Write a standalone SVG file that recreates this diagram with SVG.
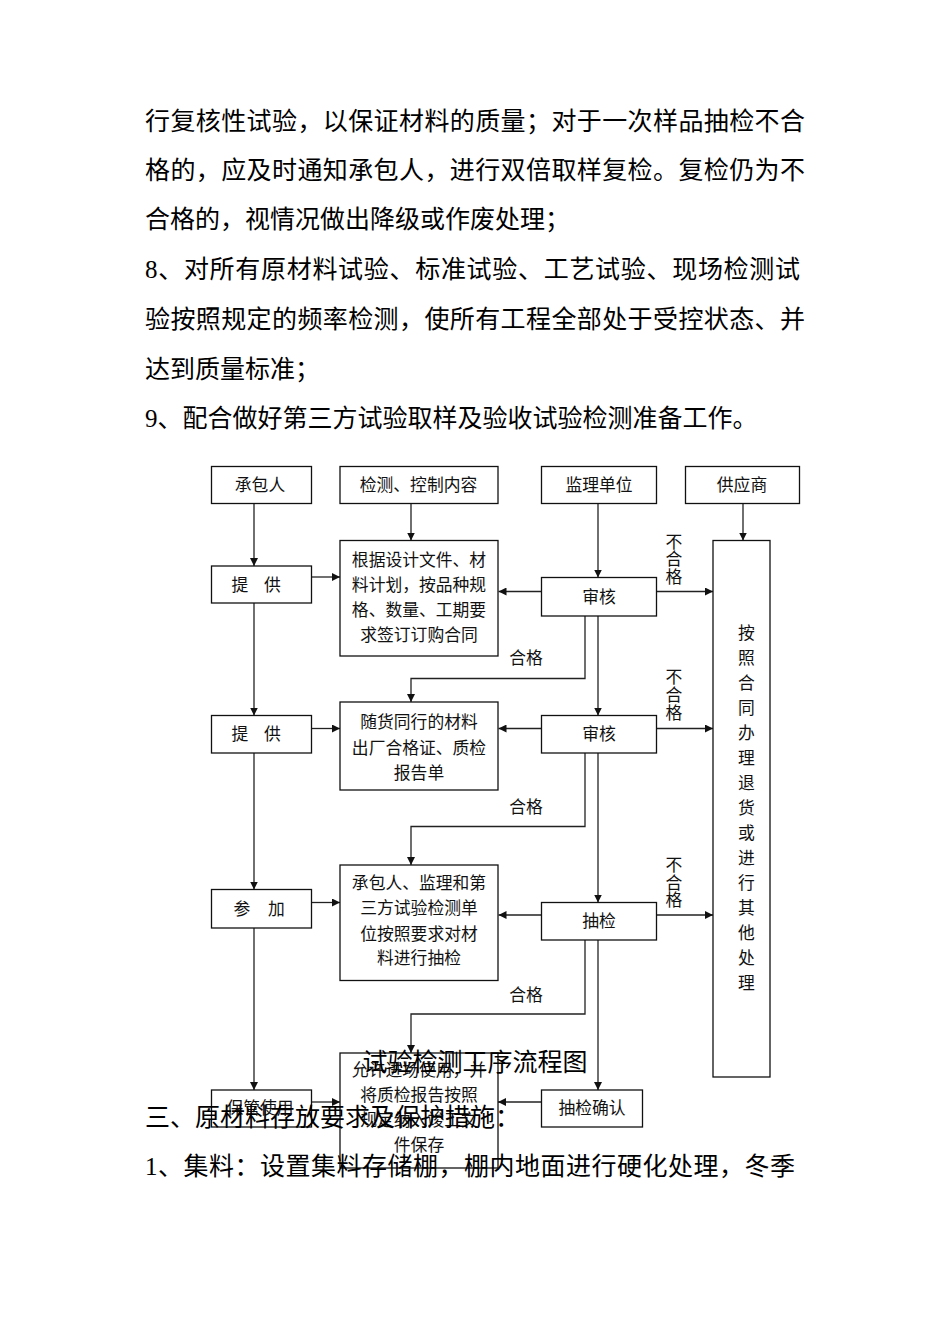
<svg xmlns="http://www.w3.org/2000/svg" width="950" height="1344" viewBox="0 0 950 1344">
<style>
.body{font-family:"Liberation Serif","Noto Sans CJK SC",serif;font-size:25px;fill:#000}
.bx{fill:#fff;stroke:#111;stroke-width:1.3}
.t{font-family:"Liberation Sans","Noto Sans CJK SC",sans-serif;font-size:16.8px;fill:#111;text-anchor:middle}
.c{fill:none;stroke:#222;stroke-width:1.3}
</style>
<defs>
<marker id="ah" viewBox="0 0 10 10" refX="10" refY="5" markerWidth="8" markerHeight="8" markerUnits="userSpaceOnUse" orient="auto">
<path d="M0,0 L10,5 L0,10 z" fill="#111"/>
</marker>
</defs>
<rect width="950" height="1344" fill="#fff"/>

<g id="connectors">
<line class="c" x1="254" y1="503" x2="254" y2="566" marker-end="url(#ah)"/>
<line class="c" x1="254" y1="603" x2="254" y2="715.5" marker-end="url(#ah)"/>
<line class="c" x1="254" y1="753" x2="254" y2="889.5" marker-end="url(#ah)"/>
<line class="c" x1="254" y1="928" x2="254" y2="1090" marker-end="url(#ah)"/>
<line class="c" x1="411" y1="503" x2="411" y2="540.5" marker-end="url(#ah)"/>
<line class="c" x1="598" y1="503" x2="598" y2="577.5" marker-end="url(#ah)"/>
<line class="c" x1="743" y1="503" x2="743" y2="540.5" marker-end="url(#ah)"/>
<line class="c" x1="312" y1="577" x2="340" y2="577" marker-end="url(#ah)"/>
<line class="c" x1="541.5" y1="591.5" x2="498.5" y2="591.5" marker-end="url(#ah)"/>
<line class="c" x1="656.5" y1="591.5" x2="713" y2="591.5" marker-end="url(#ah)"/>
<polyline class="c" points="585,616 585,678.5 411,678.5 411,702" marker-end="url(#ah)"/>
<line class="c" x1="598" y1="616" x2="598" y2="715.5" marker-end="url(#ah)"/>
<line class="c" x1="312" y1="728.5" x2="340" y2="728.5" marker-end="url(#ah)"/>
<line class="c" x1="541.5" y1="728.5" x2="498.5" y2="728.5" marker-end="url(#ah)"/>
<line class="c" x1="656.5" y1="728.5" x2="713" y2="728.5" marker-end="url(#ah)"/>
<polyline class="c" points="585,753 585,826.5 411,826.5 411,865" marker-end="url(#ah)"/>
<line class="c" x1="598" y1="753" x2="598" y2="902.5" marker-end="url(#ah)"/>
<line class="c" x1="312" y1="902.5" x2="340" y2="902.5" marker-end="url(#ah)"/>
<line class="c" x1="541.5" y1="915" x2="498.5" y2="915" marker-end="url(#ah)"/>
<line class="c" x1="656.5" y1="915" x2="713" y2="915" marker-end="url(#ah)"/>
<polyline class="c" points="585,940 585,1014 411,1014 411,1053" marker-end="url(#ah)"/>
<line class="c" x1="598" y1="940" x2="598" y2="1090" marker-end="url(#ah)"/>
<line class="c" x1="312" y1="1102" x2="340" y2="1102" marker-end="url(#ah)"/>
<line class="c" x1="541.5" y1="1102" x2="498" y2="1102" marker-end="url(#ah)"/>
<g class="t">
<text x="674" y="547.5">不</text><text x="674" y="565">合</text><text x="674" y="582.5">格</text>
<text x="674" y="682.5">不</text><text x="674" y="700.5">合</text><text x="674" y="718.5">格</text>
<text x="674" y="871">不</text><text x="674" y="889">合</text><text x="674" y="906">格</text>
<text x="526" y="664">合格</text>
<text x="526" y="812.5">合格</text>
<text x="526" y="1001">合格</text>
</g>
</g>

<g id="n-chengbaoren"><rect class="bx" x="211.5" y="466.5" width="100" height="37"/><text class="t" x="260" y="491">承包人</text></g>
<g id="n-jiance"><rect class="bx" x="340" y="466.5" width="158" height="37"/><text class="t" x="418.5" y="491">检测、控制内容</text></g>
<g id="n-jianli"><rect class="bx" x="541.5" y="466.5" width="115" height="37"/><text class="t" x="599" y="491">监理单位</text></g>
<g id="n-gongying"><rect class="bx" x="685.5" y="466.5" width="114" height="37"/><text class="t" x="742" y="491">供应商</text></g>

<g id="n-tigong1"><rect class="bx" x="211.5" y="566" width="100" height="37"/><text class="t" x="240" y="591">提</text><text class="t" x="272.5" y="591">供</text></g>
<g id="n-genju"><rect class="bx" x="340" y="540.5" width="158" height="115.5"/>
<text class="t" x="419" y="566">根据设计文件、材</text><text class="t" x="419" y="591">料计划，按品种规</text><text class="t" x="419" y="616">格、数量、工期要</text><text class="t" x="419" y="641">求签订订购合同</text></g>
<g id="n-shenhe1"><rect class="bx" x="541.5" y="577.5" width="115" height="38.5"/><text class="t" x="599" y="603">审核</text></g>

<g id="n-tuihuo"><rect class="bx" x="713" y="540.5" width="57" height="536.5"/>
<g class="t"><text x="746.5" y="639">按</text><text x="746.5" y="664">照</text><text x="746.5" y="689">合</text><text x="746.5" y="714">同</text><text x="746.5" y="739">办</text><text x="746.5" y="764">理</text><text x="746.5" y="789">退</text><text x="746.5" y="814">货</text><text x="746.5" y="839">或</text><text x="746.5" y="864">进</text><text x="746.5" y="889">行</text><text x="746.5" y="914">其</text><text x="746.5" y="939">他</text><text x="746.5" y="964">处</text><text x="746.5" y="989">理</text></g></g>

<g id="n-tigong2"><rect class="bx" x="211.5" y="715.5" width="100" height="37.5"/><text class="t" x="240" y="740">提</text><text class="t" x="272.5" y="740">供</text></g>
<g id="n-suihuo"><rect class="bx" x="340" y="702" width="158" height="88"/>
<text class="t" x="419" y="728">随货同行的材料</text><text class="t" x="419" y="754">出厂合格证、质检</text><text class="t" x="419" y="779">报告单</text></g>
<g id="n-shenhe2"><rect class="bx" x="541.5" y="715.5" width="115" height="37.5"/><text class="t" x="599" y="740">审核</text></g>

<g id="n-canjia"><rect class="bx" x="211.5" y="889.5" width="100" height="38.5"/><text class="t" x="242" y="915">参</text><text class="t" x="276.5" y="915">加</text></g>
<g id="n-choujianbox"><rect class="bx" x="340" y="865" width="158" height="115.5"/>
<text class="t" x="419" y="889">承包人、监理和第</text><text class="t" x="419" y="914">三方试验检测单</text><text class="t" x="419" y="940">位按照要求对材</text><text class="t" x="419" y="964">料进行抽检</text></g>
<g id="n-choujian"><rect class="bx" x="541.5" y="902.5" width="115" height="37.5"/><text class="t" x="599" y="927">抽检</text></g>

<g id="n-baoguan"><rect class="bx" x="211.5" y="1090" width="100" height="37"/><text class="t" x="260" y="1114">保管使用</text></g>
<g id="n-yunxu"><rect class="bx" x="340" y="1053" width="158" height="115"/>
<text class="t" x="419" y="1076">允许进场使用，并</text><text class="t" x="419" y="1101">将质检报告按照</text><text class="t" x="419" y="1126">规定纳入竣工文</text><text class="t" x="419" y="1151">件保存</text></g>
<g id="n-queren"><rect class="bx" x="541.5" y="1090" width="101" height="37"/><text class="t" x="592" y="1114">抽检确认</text></g>

<g id="bodytext">
<text class="body" x="145" y="130" textLength="660" lengthAdjust="spacing">行复核性试验，以保证材料的质量；对于一次样品抽检不合</text>
<text class="body" x="145" y="179" textLength="660" lengthAdjust="spacing">格的，应及时通知承包人，进行双倍取样复检。复检仍为不</text>
<text class="body" x="145" y="228">合格的，视情况做出降级或作废处理；</text>
<text class="body" x="145" y="278" textLength="655" lengthAdjust="spacing">8、对所有原材料试验、标准试验、工艺试验、现场检测试</text>
<text class="body" x="145" y="328" textLength="660" lengthAdjust="spacing">验按照规定的频率检测，使所有工程全部处于受控状态、并</text>
<text class="body" x="145" y="378">达到质量标准；</text>
<text class="body" x="145" y="427">9、配合做好第三方试验取样及验收试验检测准备工作。</text>
<text class="body" x="475" y="1071" text-anchor="middle">试验检测工序流程图</text>
<text class="body" x="145" y="1126">三、原材料存放要求及保护措施：</text>
<text class="body" x="145" y="1175" textLength="650" lengthAdjust="spacing">1、集料：设置集料存储棚，棚内地面进行硬化处理，冬季</text>
</g>
</svg>
